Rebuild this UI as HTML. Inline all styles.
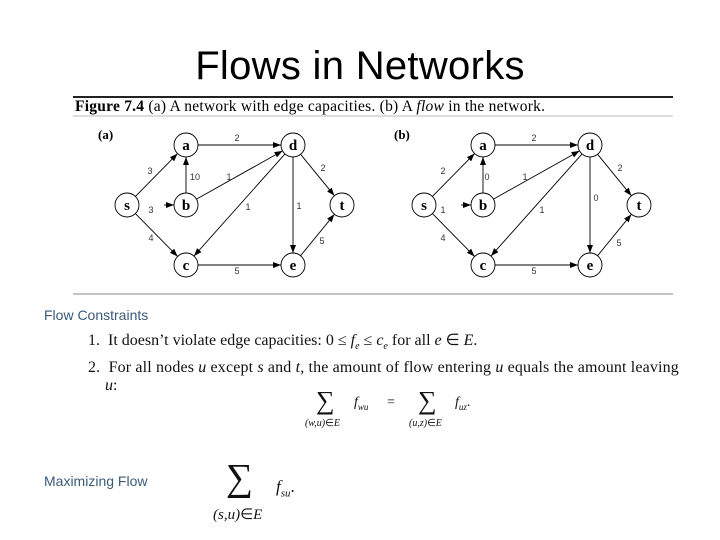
<!DOCTYPE html>
<html><head><meta charset="utf-8"><style>
body{margin:0;width:720px;height:540px;background:#fff;position:relative;overflow:hidden;font-family:"Liberation Serif",serif}
.t{position:absolute;left:0;width:720px;top:44px;text-align:center;font:40px "Liberation Sans",sans-serif;color:#000;letter-spacing:0.3px}
.h{position:absolute;font:14px "Liberation Sans",sans-serif;color:#3a5a78}
.p{position:absolute;font-size:16px;color:#111;white-space:nowrap}
i{font-style:italic}
</style></head><body>
<div class="t">Flows in Networks</div>
<svg id="g" width="720" height="540" style="position:absolute;left:0;top:0">
<defs><marker id="m" markerWidth="8" markerHeight="6" refX="8" refY="3" orient="auto" markerUnits="userSpaceOnUse"><path d="M0,0L8,3L0,6z" fill="#000"/></marker></defs>
<line x1="73" y1="97" x2="673" y2="97" stroke="#222" stroke-width="2"/>
<line x1="73" y1="116" x2="673" y2="116" stroke="#bbb" stroke-width="1"/>
<line x1="73" y1="294" x2="673" y2="294" stroke="#888" stroke-width="1"/>
<text x="75" y="111" font-family="Liberation Serif" font-size="15.5" textLength="470"><tspan font-weight="bold">Figure 7.4</tspan> (a) A network with edge capacities. (b) A <tspan font-style="italic">flow</tspan> in the network.</text>
<text x="98" y="139" font-family="Liberation Serif" font-size="13" font-weight="bold">(a)</text>
<text x="394" y="139" font-family="Liberation Serif" font-size="13" font-weight="bold">(b)</text>
</svg>
<div class="h" style="left:44px;top:307px">Flow Constraints</div>
<div class="p" style="left:88px;top:330px">1.&nbsp; It doesn’t violate edge capacities: 0 ≤ <i>f<sub style="font-size:10px">e</sub></i> ≤ <i>c<sub style="font-size:10px">e</sub></i> for all <i>e</i> ∈ <i>E</i>.</div>
<div class="p" style="left:88px;top:359px;letter-spacing:0.15px">2.&nbsp; For all nodes <i>u</i> except <i>s</i> and <i>t</i>, the amount of flow entering <i>u</i> equals the amount leaving</div>
<div class="p" style="left:105px;top:377px"><i>u</i>:</div>
<div class="p" style="left:316px;top:386px;font-size:26px">∑</div>
<div class="p" style="left:354px;top:395px;font-size:14px"><i>f<sub style="font-size:9px">wu</sub></i></div>
<div class="p" style="left:387px;top:395px;font-size:14px">=</div>
<div class="p" style="left:418px;top:386px;font-size:26px">∑</div>
<div class="p" style="left:455px;top:395px;font-size:14px"><i>f<sub style="font-size:9px">uz</sub></i>.</div>
<div class="p" style="left:305px;top:418px;font-size:10px"><i>(w,u)</i>∈<i>E</i></div>
<div class="p" style="left:409px;top:418px;font-size:10px"><i>(u,z)</i>∈<i>E</i></div>
<div class="h" style="left:44px;top:473px">Maximizing Flow</div>
<div class="p" style="left:226px;top:458px;font-size:38px;line-height:40px">∑</div>
<div class="p" style="left:276px;top:477px;font-size:17px"><i>f<sub style="font-size:11px">su</sub></i>.</div>
<div class="p" style="left:213px;top:505px;font-size:15px"><i>(s,u)</i>∈<i>E</i></div>
<script>
var svg=document.getElementById('g'),NS='http://www.w3.org/2000/svg';
function el(n,a,t){var e=document.createElementNS(NS,n);for(var k in a)e.setAttribute(k,a[k]);if(t!=null)e.textContent=t;svg.appendChild(e);return e;}
function draw(ox,labels){
 var N={s:[127,205],a:[186,145],b:[186,205],d:[293,145],t:[342,205],c:[186,265],e:[293,265]};
 for(var k in N)N[k][0]+=ox;
 var E=[['s','a'],['s','b'],['s','c'],['b','a'],['b','d'],['a','d'],['d','c'],['d','e'],['d','t'],['c','e'],['e','t']];
 var r=12;
 E.forEach(function(p){var A=N[p[0]],B=N[p[1]],dx=B[0]-A[0],dy=B[1]-A[1],L=Math.hypot(dx,dy),ux=dx/L,uy=dy/L;
  var sx=A[0]+ux*r,sy=A[1]+uy*r; if(p[0]=='s'&&p[1]=='b'){sx=B[0]-ux*(r+10);sy=B[1];}
  el('line',{x1:sx,y1:sy,x2:B[0]-ux*r,y2:B[1]-uy*r,stroke:'#000','stroke-width':0.9,'marker-end':'url(#m)'});});
 for(var k in N){el('circle',{cx:N[k][0],cy:N[k][1],r:r,fill:'#fff',stroke:'#000','stroke-width':0.9});
  el('text',{x:N[k][0],y:N[k][1]+5,'text-anchor':'middle','font-family':'Liberation Serif','font-size':15,'font-weight':'bold'},k);}
 labels.forEach(function(l){el('text',{x:l[0]+ox,y:l[1],'text-anchor':'middle','font-family':'Liberation Sans','font-size':9,fill:'#333'},l[2]);});
}
draw(0,[[150,174,'3'],[151,213,'3'],[151,241,'4'],[195,180,'10'],[237,141,'2'],[229,180,'1'],[248,210,'1'],[299,209,'1'],[323,171,'2'],[322,244,'5'],[237,274,'5']]);
draw(297,[[146,174,'2'],[146,213,'1'],[146,241,'4'],[190,180,'0'],[237,141,'2'],[228,180,'1'],[245,213,'1'],[299,201,'0'],[323,171,'2'],[322,246,'5'],[237,274,'5']]);
</script>
</body></html>
